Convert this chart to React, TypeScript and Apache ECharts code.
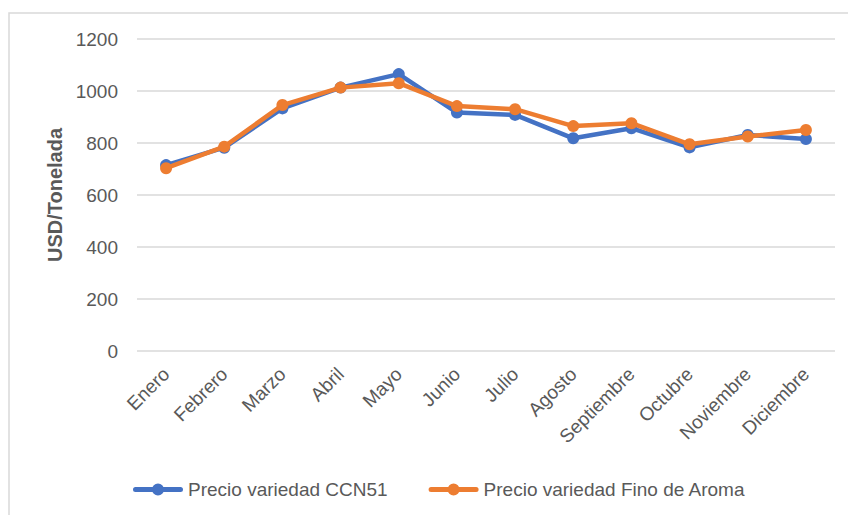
import React, { useEffect, useRef } from "react";
import * as echarts from "echarts";

const months = ["Enero", "Febrero", "Marzo", "Abril", "Mayo", "Junio", "Julio", "Agosto", "Septiembre", "Octubre", "Noviembre", "Diciembre"];
const ccn51 = [715, 782, 933, 1013, 1065, 917, 908, 818, 857, 783, 831, 815];
const finoAroma = [703, 786, 946, 1013, 1030, 942, 930, 865, 876, 795, 825, 850];
const seriesNames = ["Precio variedad CCN51", "Precio variedad Fino de Aroma"];
const yTitle = "USD/Tonelada";

const FONT = "'Liberation Sans', Arial, sans-serif";
const LEGEND_ICON =
  "path://M2.5,4 L47.5,4 A2.5,2.5 0 0 1 47.5,9 L2.5,9 A2.5,2.5 0 0 1 2.5,4 Z M19,6.5 A6,6 0 1 1 31,6.5 A6,6 0 1 1 19,6.5 Z";

export default function App() {
  const ref = useRef<HTMLDivElement>(null);
  useEffect(() => {
    if (!ref.current) return;
    const chart = echarts.init(ref.current, null, { renderer: "svg" });
    chart.setOption({
      animation: false,
      backgroundColor: "#ffffff",
      textStyle: { fontFamily: FONT },
      graphic: [
        {
          type: "rect",
          shape: { x: 9, y: 13, width: 900, height: 600 },
          style: { fill: "none", stroke: "#d9d9d9", lineWidth: 1.5 },
          silent: true,
        },
      ],
      grid: { left: 137, right: 13, top: 39, bottom: 164, containLabel: false },
      legend: {
        left: 133,
        top: 480,
        padding: 0,
        itemWidth: 50,
        itemHeight: 12,
        itemGap: 41,
        icon: LEGEND_ICON,
        textStyle: { fontSize: 19, color: "#595959", fontFamily: FONT },
        data: seriesNames,
      },
      xAxis: {
        type: "category",
        data: months,
        boundaryGap: true,
        axisLine: { show: false },
        axisTick: { show: false },
        axisLabel: { rotate: 45, fontSize: 19, color: "#595959", margin: 20, interval: 0, fontFamily: FONT },
      },
      yAxis: {
        type: "value",
        min: 0,
        max: 1200,
        interval: 200,
        name: yTitle,
        nameLocation: "middle",
        nameRotate: 90,
        nameGap: 72,
        nameTextStyle: { fontSize: 20, fontWeight: "bold", color: "#595959", fontFamily: FONT },
        axisLine: { show: false },
        axisTick: { show: false },
        axisLabel: { fontSize: 19, color: "#595959", margin: 19, fontFamily: FONT, formatter: (v: number) => String(v) },
        splitLine: { lineStyle: { color: "#d9d9d9", width: 1.5 } },
      },
      series: [
        {
          name: seriesNames[0],
          type: "line",
          data: ccn51,
          symbol: "circle",
          symbolSize: 12,
          lineStyle: { color: "#4472C4", width: 4.5 },
          itemStyle: { color: "#4472C4" },
          z: 2,
        },
        {
          name: seriesNames[1],
          type: "line",
          data: finoAroma,
          symbol: "circle",
          symbolSize: 12,
          lineStyle: { color: "#ED7D31", width: 4.5 },
          itemStyle: { color: "#ED7D31" },
          z: 3,
        },
      ],
    });
    return () => chart.dispose();
  }, []);
  return <div ref={ref} style={{ position: "absolute", left: 0, top: 0, width: 848, height: 515 }} />;
}
